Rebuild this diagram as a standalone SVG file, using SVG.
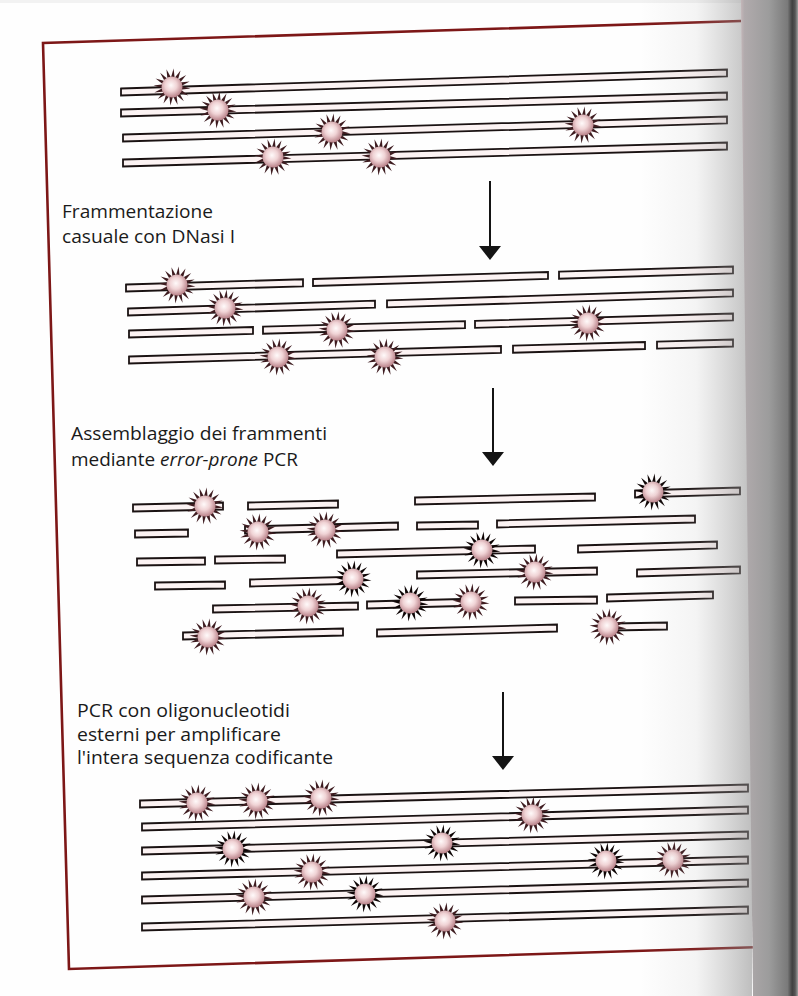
<svg xmlns="http://www.w3.org/2000/svg" xmlns:xlink="http://www.w3.org/1999/xlink" width="798" height="996" viewBox="0 0 798 996">
  <style>
    .s { fill: #fcf3f3; stroke: #1a1212; stroke-width: 1.8; stroke-linejoin: miter; }
    .m { fill: #3e1c20; }
    .md { fill: #0e0505; }
    .lbl { font-family: "Open Sans", "Noto Sans", "Liberation Sans", sans-serif; font-size: 18px; fill: #1a1a1a; }
    .arr { stroke: #141414; stroke-width: 2; fill: none; marker-end: url(#ah); }
    .frame { fill: none; stroke: #7d1717; stroke-width: 2.6; stroke-linejoin: miter; }
  </style>
  <defs>
    <radialGradient id="ball" cx="45%" cy="42%" r="62%">
      <stop offset="0" stop-color="#fffafa"/>
      <stop offset="0.45" stop-color="#f0d3d5"/>
      <stop offset="1" stop-color="#b27880"/>
    </radialGradient>
    <!-- one ray of a mutation burst -->
    <path id="ray" d="M-2,-8.5 L0,-18.5 L2,-8.5 Z"/>
    <g id="rays">
      <use href="#ray" transform="rotate(5)"/>
      <use href="#ray" transform="rotate(27.5)"/>
      <use href="#ray" transform="rotate(50)"/>
      <use href="#ray" transform="rotate(72.5)"/>
      <use href="#ray" transform="rotate(95)"/>
      <use href="#ray" transform="rotate(117.5)"/>
      <use href="#ray" transform="rotate(140)"/>
      <use href="#ray" transform="rotate(162.5)"/>
      <use href="#ray" transform="rotate(185)"/>
      <use href="#ray" transform="rotate(207.5)"/>
      <use href="#ray" transform="rotate(230)"/>
      <use href="#ray" transform="rotate(252.5)"/>
      <use href="#ray" transform="rotate(275)"/>
      <use href="#ray" transform="rotate(297.5)"/>
      <use href="#ray" transform="rotate(320)"/>
      <use href="#ray" transform="rotate(342.5)"/>
    </g>
    <!-- mutation marker: rays + shaded ball; ray colour comes from the use element -->
    <g id="mut">
      <use href="#rays"/>
      <circle r="10.5" fill="url(#ball)"/>
    </g>
    <marker id="ah" markerUnits="userSpaceOnUse" markerWidth="14" markerHeight="22" viewBox="0 0 14 22" refX="0" refY="11" orient="auto">
      <path d="M0,0 L14,11 L0,22 Z" fill="#141414"/>
    </marker>
    <linearGradient id="curl" gradientUnits="userSpaceOnUse" x1="640" y1="0" x2="752" y2="0">
      <stop offset="0" stop-color="#9a9a9a" stop-opacity="0"/>
      <stop offset="0.5" stop-color="#9a9a9a" stop-opacity="0.1"/>
      <stop offset="1" stop-color="#8a8a8a" stop-opacity="0.55"/>
    </linearGradient>
    <linearGradient id="gutter" gradientUnits="userSpaceOnUse" x1="740" y1="0" x2="798" y2="0">
      <stop offset="0" stop-color="#c8b8bb"/>
      <stop offset="0.08" stop-color="#b0aaac"/>
      <stop offset="0.5" stop-color="#9c9c9c"/>
      <stop offset="0.82" stop-color="#7a7a7a"/>
      <stop offset="0.9" stop-color="#404040"/>
      <stop offset="0.95" stop-color="#555555"/>
      <stop offset="1" stop-color="#a0a0a0"/>
    </linearGradient>
  </defs>

  <rect width="798" height="996" fill="#fefefe"/>
  <rect width="798" height="3" fill="#f2f2f2"/>

  <!-- page frame -->
  <path class="frame" d="M741,21 L43,43 L69,969 L762,947"/>

  <!-- stage 1: intact coding sequences -->
  <g id="stage-intact">
    <polygon class="s" points="121,88.5 727,69.5 727,76.5 121,95.5"/>
    <polygon class="s" points="121,109.5 727,92.5 727,99.5 121,116.5"/>
    <polygon class="s" points="123,134.5 727,116.5 727,123.5 123,141.5"/>
    <polygon class="s" points="123,159.5 727,142.5 727,149.5 123,166.5"/>
    <use href="#mut" class="m" x="172" y="87"/>
    <use href="#mut" class="m" x="218" y="110"/>
    <use href="#mut" class="m" x="332" y="132"/>
    <use href="#mut" class="m" x="273" y="157"/>
    <use href="#mut" class="m" x="380" y="157"/>
    <use href="#mut" class="m" x="583" y="125"/>
  </g>

  <!-- stage 2: DNase I fragments -->
  <g id="stage-fragments">
    <polygon class="s" points="126,284.5 303,279.3 303,286.3 126,291.5"/>
    <polygon class="s" points="313,279 548,272 548,279 313,286"/>
    <polygon class="s" points="559,271.7 733,266.5 733,273.5 559,278.7"/>
    <polygon class="s" points="128,308.5 375,300.7 375,307.7 128,315.5"/>
    <polygon class="s" points="387,300.4 733,289.5 733,296.5 387,307.4"/>
    <polygon class="s" points="129,330.5 253,327 253,334 129,337.5"/>
    <polygon class="s" points="263,326.7 465,321.1 465,328.1 263,333.7"/>
    <polygon class="s" points="475,320.8 733,313.5 733,320.5 475,327.8"/>
    <polygon class="s" points="129,356.5 501,346 501,353 129,363.5"/>
    <polygon class="s" points="513,345.7 645,342 645,349 513,352.7"/>
    <polygon class="s" points="657,341.6 733,339.5 733,346.5 657,348.6"/>
    <use href="#mut" class="m" x="177" y="285"/>
    <use href="#mut" class="m" x="225" y="308"/>
    <use href="#mut" class="m" x="337" y="330"/>
    <use href="#mut" class="m" x="278" y="357"/>
    <use href="#mut" class="m" x="385" y="357"/>
    <use href="#mut" class="m" x="588" y="323"/>
  </g>

  <!-- stage 3: reassembly by error-prone PCR -->
  <g id="stage-assembly">
    <polygon class="s" points="133,504.5 223,502.5 223,509.5 133,511.5"/>
    <polygon class="s" points="248,502.5 338,500.5 338,507.5 248,509.5"/>
    <polygon class="s" points="415,497.5 595,493.5 595,500.5 415,504.5"/>
    <polygon class="s" points="635,490.5 740,487.5 740,494.5 635,497.5"/>
    <polygon class="s" points="135,530.5 188,529.5 188,536.5 135,537.5"/>
    <polygon class="s" points="245,526.5 398,522.5 398,529.5 245,533.5"/>
    <polygon class="s" points="417,522.5 478,521.5 478,528.5 417,529.5"/>
    <polygon class="s" points="497,520.5 695,515.5 695,522.5 497,527.5"/>
    <polygon class="s" points="137,558.5 205,557.5 205,564.5 137,565.5"/>
    <polygon class="s" points="215,556.5 285,555.5 285,562.5 215,563.5"/>
    <polygon class="s" points="337,550.5 535,545.5 535,552.5 337,557.5"/>
    <polygon class="s" points="578,545.5 717,541.5 717,548.5 578,552.5"/>
    <polygon class="s" points="155,582.5 225,581.5 225,588.5 155,589.5"/>
    <polygon class="s" points="250,579.5 362,576.5 362,583.5 250,586.5"/>
    <polygon class="s" points="417,571.5 597,567.5 597,574.5 417,578.5"/>
    <polygon class="s" points="637,569.5 740,566.5 740,573.5 637,576.5"/>
    <polygon class="s" points="213,605.5 358,602.5 358,609.5 213,612.5"/>
    <polygon class="s" points="367,601.5 480,598.5 480,605.5 367,608.5"/>
    <polygon class="s" points="515,597.5 597,596.5 597,603.5 515,604.5"/>
    <polygon class="s" points="607,594.5 713,591.5 713,598.5 607,601.5"/>
    <polygon class="s" points="183,632.5 343,628.5 343,635.5 183,639.5"/>
    <polygon class="s" points="377,629.5 557,624.5 557,631.5 377,636.5"/>
    <polygon class="s" points="613,623.5 667,622.5 667,629.5 613,630.5"/>
    <use href="#mut" class="m" x="205" y="506"/>
    <use href="#mut" class="m" x="258" y="532"/>
    <use href="#mut" class="m" x="325" y="530"/>
    <use href="#mut" class="md" x="482" y="550"/>
    <use href="#mut" class="md" x="353" y="579"/>
    <use href="#mut" class="m" x="535" y="572"/>
    <use href="#mut" class="m" x="308" y="606"/>
    <use href="#mut" class="md" x="410" y="603"/>
    <use href="#mut" class="m" x="471" y="602"/>
    <use href="#mut" class="md" x="653" y="492"/>
    <use href="#mut" class="m" x="208" y="637"/>
    <use href="#mut" class="m" x="608" y="627"/>
  </g>

  <!-- stage 4: full-length products amplified with outer primers -->
  <g id="stage-products">
    <polygon class="s" points="140,800.5 748,784.5 748,791.5 140,807.5"/>
    <polygon class="s" points="142,823.5 748,806.5 748,813.5 142,830.5"/>
    <polygon class="s" points="142,847.5 748,831.5 748,838.5 142,854.5"/>
    <polygon class="s" points="142,872.5 748,856.5 748,863.5 142,879.5"/>
    <polygon class="s" points="142,896.5 748,879.5 748,886.5 142,903.5"/>
    <polygon class="s" points="142,923.5 748,906.5 748,913.5 142,930.5"/>
    <use href="#mut" class="m" x="197" y="803"/>
    <use href="#mut" class="m" x="257" y="801"/>
    <use href="#mut" class="m" x="321" y="798"/>
    <use href="#mut" class="md" x="233" y="849"/>
    <use href="#mut" class="m" x="312" y="872"/>
    <use href="#mut" class="m" x="254" y="897"/>
    <use href="#mut" class="md" x="365" y="894"/>
    <use href="#mut" class="m" x="532" y="815"/>
    <use href="#mut" class="md" x="442" y="843"/>
    <use href="#mut" class="md" x="606" y="861"/>
    <use href="#mut" class="m" x="673" y="860"/>
    <use href="#mut" class="m" x="445" y="921"/>
  </g>

  <!-- step labels -->
  <g id="label-fragmentation" class="lbl">
    <text x="62" y="217.5" textLength="151" lengthAdjust="spacingAndGlyphs">Frammentazione</text>
    <text x="62" y="243" textLength="173" lengthAdjust="spacingAndGlyphs">casuale con DNasi I</text>
  </g>
  <g id="label-assembly" class="lbl">
    <text x="71" y="440" textLength="256" lengthAdjust="spacingAndGlyphs">Assemblaggio dei frammenti</text>
    <text x="71" y="466" textLength="227" lengthAdjust="spacingAndGlyphs">mediante <tspan font-style="italic">error-prone</tspan> PCR</text>
  </g>
  <g id="label-amplification" class="lbl">
    <text x="77" y="717" textLength="213" lengthAdjust="spacingAndGlyphs">PCR con oligonucleotidi</text>
    <text x="77" y="741" textLength="204" lengthAdjust="spacingAndGlyphs">esterni per amplificare</text>
    <text x="77" y="764" textLength="256" lengthAdjust="spacingAndGlyphs">l'intera sequenza codificante</text>
  </g>

  <!-- step arrows -->
  <g id="connectors">
    <line class="arr" x1="490" y1="181" x2="490" y2="246"/>
    <line class="arr" x1="493" y1="388" x2="493" y2="452"/>
    <line class="arr" x1="503" y1="692" x2="503" y2="756"/>
  </g>

  <!-- binding shadow at the right edge -->
  <rect x="640" y="0" width="112" height="996" fill="url(#curl)"/>
  <polygon points="741,0 753,996 798,996 798,0" fill="url(#gutter)"/>
</svg>
